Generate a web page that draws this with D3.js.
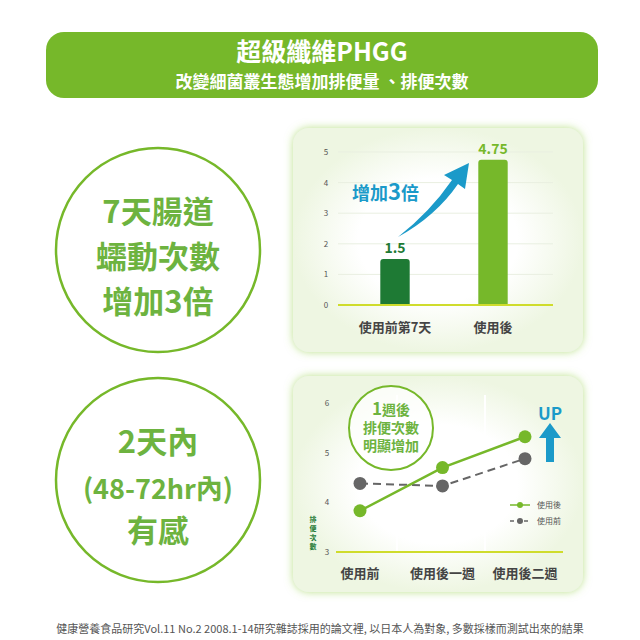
<!DOCTYPE html>
<html><head><meta charset="utf-8">
<script src="https://cdn.jsdelivr.net/npm/d3@7"></script>
<style>body{margin:0;background:#fff}svg{display:block;font-family:"Noto Sans CJK TC","Noto Sans",sans-serif}</style>
</head><body><svg id="c" width="640" height="640"></svg>
<script>
var barCats = ['使用前第7天', '使用後'];
var barVals = [1.5, 4.75];
var barTicks = [0, 1, 2, 3, 4, 5];
var lineCats = ['使用前', '使用後一週', '使用後二週'];
var afterVals = [3.83, 4.7, 5.32];
var beforeVals = [4.38, 4.33, 4.88];
var lineTicks = [3, 4, 5, 6];

var green = '#76b82a', dark = '#1e7a34', blue = '#1b9ac9', txt = '#6db33f';
var svg = d3.select('#c');
var defs = svg.append('defs');
var f = defs.append('filter').attr('id', 'glow').attr('x', '-20%').attr('y', '-20%').attr('width', '140%').attr('height', '140%');
f.append('feDropShadow').attr('dx', 0).attr('dy', 0).attr('stdDeviation', 4).attr('flood-color', '#9fd45a').attr('flood-opacity', 0.7);
var rg = defs.append('radialGradient').attr('id', 'pg');
rg.append('stop').attr('offset', '55%').attr('stop-color', '#fff');
rg.append('stop').attr('offset', '100%').attr('stop-color', '#eef6e2');

// header
svg.append('rect').attr('x', 46).attr('y', 32).attr('width', 552).attr('height', 66).attr('rx', 18).attr('fill', green);
svg.append('text').attr('x', 322).attr('y', 61).attr('text-anchor', 'middle').attr('fill', '#fff')
  .attr('font-size', 25).attr('font-weight', 'bold').text('超級纖維PHGG');
svg.append('text').attr('x', 322).attr('y', 88).attr('text-anchor', 'middle').attr('fill', '#fff')
  .attr('font-size', 17).attr('font-weight', 'bold').text('改變細菌叢生態增加排便量 、排便次數');

// left circles
[[250, ['7天腸道', '蠕動次數', '增加3倍'], [212, 257, 302]],
 [480, ['2天內', '(48-72hr內)', '有感'], [442, 488, 531]]].forEach(function(c) {
  svg.append('circle').attr('cx', 158).attr('cy', c[0]).attr('r', 102).attr('fill', 'none').attr('stroke', green).attr('stroke-width', 2.5);
  c[1].forEach(function(s, i) {
    svg.append('text').attr('x', 158).attr('y', c[2][i] + 11).attr('text-anchor', 'middle').attr('fill', txt)
      .attr('font-size', i == 1 && c[0] == 480 ? 27 : 31).attr('font-weight', 'bold').text(s);
  });
});

// panels
[[293, 128, 290, 224], [293, 376, 290, 216]].forEach(function(p) {
  svg.append('rect').attr('x', p[0]).attr('y', p[1]).attr('width', p[2]).attr('height', p[3]).attr('rx', 16)
    .attr('fill', 'url(#pg)').attr('filter', 'url(#glow)');
});

// bar chart
var x1 = d3.scaleBand().domain(barCats).range([346, 542]).paddingInner(0.7).paddingOuter(0.35);
var y1 = d3.scaleLinear().domain([0, 5]).range([305, 152]);
var g1 = svg.append('g');
barTicks.forEach(function(t) {
  g1.append('line').attr('x1', 338).attr('x2', 553).attr('y1', y1(t)).attr('y2', y1(t)).attr('stroke', '#e9efe1');
  g1.append('text').attr('x', 326).attr('y', y1(t) + 3).attr('text-anchor', 'middle').attr('font-size', 8).attr('fill', '#555').text(t);
});
g1.selectAll('.bar').data(barVals).enter().append('path')
  .attr('fill', function(d, i) { return i ? green : dark; })
  .attr('d', function(d, i) {
    var x = x1(barCats[i]), w = x1.bandwidth(), y = y1(d), b = y1(0), r = 3;
    return 'M' + x + ',' + b + 'V' + (y + r) + 'Q' + x + ',' + y + ' ' + (x + r) + ',' + y + 'H' + (x + w - r) +
      'Q' + (x + w) + ',' + y + ' ' + (x + w) + ',' + (y + r) + 'V' + b + 'Z';
  });
g1.selectAll('.v').data(barVals).enter().append('text')
  .attr('x', function(d, i) { return x1(barCats[i]) + x1.bandwidth() / 2; })
  .attr('y', function(d) { return y1(d) - 6; }).attr('text-anchor', 'middle')
  .attr('font-size', 14).attr('font-weight', 'bold').attr('fill', function(d, i) { return i ? green : dark; })
  .text(function(d) { return d; });
g1.append('line').attr('x1', 338).attr('x2', 553).attr('y1', y1(0)).attr('y2', y1(0)).attr('stroke', '#cfdc2c').attr('stroke-width', 2);
barCats.forEach(function(c) {
  g1.append('text').attr('x', x1(c) + x1.bandwidth() / 2).attr('y', 332).attr('text-anchor', 'middle')
    .attr('font-size', 13).attr('font-weight', 'bold').attr('fill', '#444').text(c);
});
// curved arrow
g1.append('path').attr('fill', blue)
  .attr('d', 'M398,237 Q430,212 452,180 L444,175 L469,163 L465,189 L458,184 Q436,216 398,237 Z');
g1.append('text').attr('x', 352).attr('y', 200).attr('font-size', 18).attr('font-weight', 'bold').attr('fill', blue)
  .text('增加').append('tspan').attr('font-size', 22).text('3').select(function() { return this.parentNode; })
  .append('tspan').attr('font-size', 18).text('倍');

// line chart
var x2 = d3.scalePoint().domain(lineCats).range([360, 525]);
var y2 = d3.scaleLinear().domain([3, 6]).range([552, 403]);
var g2 = svg.append('g');
[397, 485].forEach(function(x) {
  g2.append('line').attr('x1', x).attr('x2', x).attr('y1', 395).attr('y2', 552).attr('stroke', '#fff').attr('stroke-width', 2);
});
lineTicks.forEach(function(t) {
  g2.append('text').attr('x', 327).attr('y', y2(t) + 3).attr('text-anchor', 'middle').attr('font-size', 8).attr('fill', '#555').text(t);
});
g2.append('line').attr('x1', 336).attr('x2', 563).attr('y1', y2(3)).attr('y2', y2(3)).attr('stroke', '#cfdc2c').attr('stroke-width', 2);
'排便次數'.split('').forEach(function(ch, i) {
  g2.append('text').attr('x', 313).attr('y', 522 + i * 9).attr('text-anchor', 'middle').attr('font-size', 7)
    .attr('font-weight', 'bold').attr('fill', dark).text(ch);
});
var ln = d3.line().x(function(d, i) { return x2(lineCats[i]); }).y(function(d) { return y2(d); });
g2.append('path').datum(beforeVals).attr('d', ln).attr('fill', 'none').attr('stroke', '#666').attr('stroke-width', 2).attr('stroke-dasharray', '8,5');
g2.append('path').datum(afterVals).attr('d', ln).attr('fill', 'none').attr('stroke', green).attr('stroke-width', 2.5);
[[beforeVals, '#666'], [afterVals, green]].forEach(function(s) {
  g2.selectAll(null).data(s[0]).enter().append('circle')
    .attr('cx', function(d, i) { return x2(lineCats[i]); }).attr('cy', function(d) { return y2(d); })
    .attr('r', 6.5).attr('fill', s[1]);
});
lineCats.forEach(function(c) {
  g2.append('text').attr('x', x2(c)).attr('y', 578).attr('text-anchor', 'middle')
    .attr('font-size', 13).attr('font-weight', 'bold').attr('fill', '#444').text(c);
});
// callout circle
g2.append('circle').attr('cx', 391).attr('cy', 428).attr('r', 42).attr('fill', 'rgba(255,255,255,0.7)').attr('stroke', green).attr('stroke-width', 2);
[['1', '週後'], ['排便次數'], ['明顯增加']].forEach(function(l, i) {
  var t = g2.append('text').attr('x', 391).attr('y', 415 + i * 18).attr('text-anchor', 'middle').attr('fill', txt)
    .attr('font-size', 14).attr('font-weight', 'bold');
  if (l.length > 1) { t.append('tspan').attr('font-size', 17).text(l[0]); t.append('tspan').text(l[1]); }
  else t.text(l[0]);
});
// UP arrow
g2.append('text').attr('x', 550).attr('y', 420).attr('text-anchor', 'middle').attr('font-size', 17).attr('font-weight', 'bold').attr('fill', blue).text('UP');
g2.append('path').attr('fill', blue).attr('d', 'M550,423 L561,438 L554,438 L554,462 L546,462 L546,438 L539,438 Z');
// legend
[['使用後', green, null, 505], ['使用前', '#666', '4,3', 521]].forEach(function(l) {
  g2.append('line').attr('x1', 510).attr('x2', 530).attr('y1', l[3]).attr('y2', l[3]).attr('stroke', l[1]).attr('stroke-width', 1.5).attr('stroke-dasharray', l[2]);
  g2.append('circle').attr('cx', 520).attr('cy', l[3]).attr('r', 3).attr('fill', l[1]);
  g2.append('text').attr('x', 537).attr('y', l[3] + 3).attr('font-size', 8).attr('fill', '#555').text(l[0]);
});

// footnote
svg.append('text').attr('x', 320).attr('y', 633).attr('text-anchor', 'middle').attr('font-size', 11).attr('fill', '#555')
  .text('健康營養食品研究Vol.11 No.2 2008.1-14研究雜誌採用的論文裡, 以日本人為對象, 多數採樣而測試出來的結果');
</script></body></html>
